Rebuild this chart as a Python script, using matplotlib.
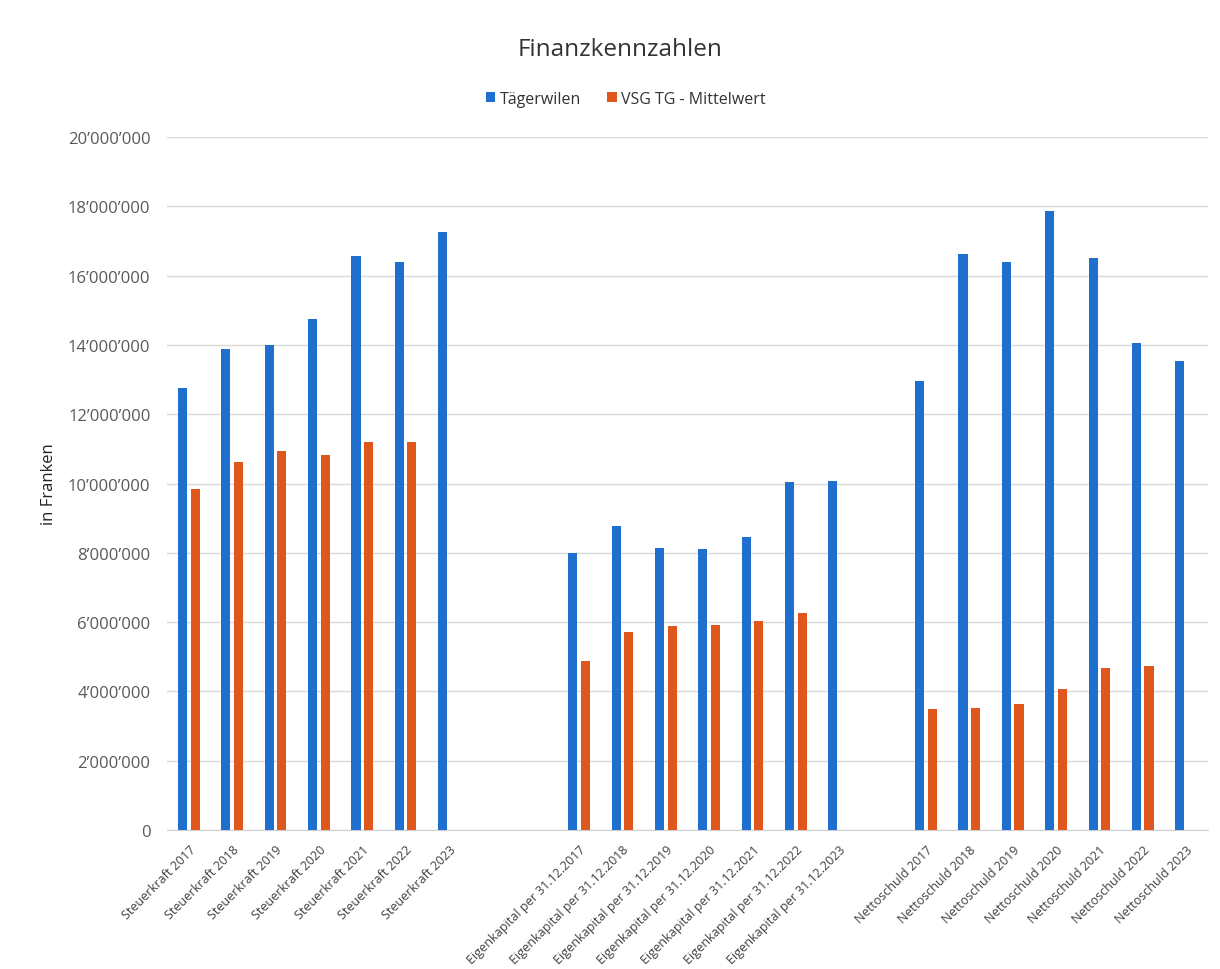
import numpy as np
import matplotlib.pyplot as plt
from matplotlib.ticker import FuncFormatter

BLUE = "#1F6FCE"
ORANGE = "#E0571C"
GRID = "#DADADA"
TEXT = "#404040"

YEARS = ["2017", "2018", "2019", "2020", "2021", "2022", "2023"]

steuerkraft_labels = [f"Steuerkraft {y}" for y in YEARS]
eigenkapital_labels = [f"Eigenkapital per 31.12.{y}" for y in YEARS]
nettoschuld_labels = [f"Nettoschuld {y}" for y in YEARS]

# values in Franken
steuerkraft_tw = [12.76e6, 13.88e6, 14.00e6, 14.75e6, 16.57e6, 16.39e6, 17.26e6]
steuerkraft_vsg = [9.84e6, 10.62e6, 10.94e6, 10.82e6, 11.20e6, 11.20e6, np.nan]
eigenkapital_tw = [7.99e6, 8.77e6, 8.14e6, 8.11e6, 8.46e6, 10.04e6, 10.07e6]
eigenkapital_vsg = [4.88e6, 5.71e6, 5.89e6, 5.92e6, 6.03e6, 6.26e6, np.nan]
nettoschuld_tw = [12.96e6, 16.62e6, 16.39e6, 17.86e6, 16.51e6, 14.05e6, 13.54e6]
nettoschuld_vsg = [3.49e6, 3.51e6, 3.64e6, 4.07e6, 4.68e6, 4.73e6, np.nan]

# empty categories between the blocks, as in the source sheet
gap2 = ["", ""]
gap1 = [""]
labels = steuerkraft_labels + gap2 + eigenkapital_labels + gap1 + nettoschuld_labels
tw = np.array(steuerkraft_tw + [np.nan] * 2 + eigenkapital_tw + [np.nan] + nettoschuld_tw)
vsg = np.array(steuerkraft_vsg + [np.nan] * 2 + eigenkapital_vsg + [np.nan] + nettoschuld_vsg)

plt.rcParams.update({"font.family": ["Open Sans", "DejaVu Sans"]})

fig = plt.figure(figsize=(12.2, 9.7), dpi=100)
ax = fig.add_axes([0.137, 0.1433, 0.853, 0.7144])

x = np.arange(len(labels))
width = 0.21
ax.bar(x - 0.145, tw, width=width, color=BLUE, label="Tägerwilen", zorder=3)
ax.bar(x + 0.145, vsg, width=width, color=ORANGE, label="VSG TG - Mittelwert", zorder=3)

ax.set_xlim(-0.5, len(labels) - 0.5)
ax.set_ylim(0, 20e6)
ax.set_yticks(np.arange(0, 20e6 + 1, 2e6))
ax.yaxis.set_major_formatter(
    FuncFormatter(lambda v, _: f"{int(v):,}".replace(",", "\u2019"))
)
ax.tick_params(axis="y", length=0, pad=12, labelsize=12, labelcolor="#595959")
ax.set_xticks(x)
ax.set_xticklabels(labels, rotation=45, ha="right", rotation_mode="anchor",
                   fontsize=9, color=TEXT)
ax.tick_params(axis="x", length=0, pad=9)

ax.grid(True, axis="y", color=GRID, linewidth=1.0, zorder=0)
for side in ["top", "right", "left"]:
    ax.spines[side].set_visible(False)
ax.spines["bottom"].set_color("#D0D0D0")

ax.set_ylabel("in Franken", fontsize=12, color="#222222", labelpad=8)

fig.text(0.508, 0.948, "Finanzkennzahlen", ha="center", va="center",
         fontsize=17.5, color="#333333")
fig.legend(loc="center", bbox_to_anchor=(0.513, 0.897), ncol=2, frameon=False,
           fontsize=11.5, handlelength=0.6, handleheight=0.6, handletextpad=0.3,
           columnspacing=1.6, labelcolor="#333333")

fig.savefig("out.png", dpi=100)
